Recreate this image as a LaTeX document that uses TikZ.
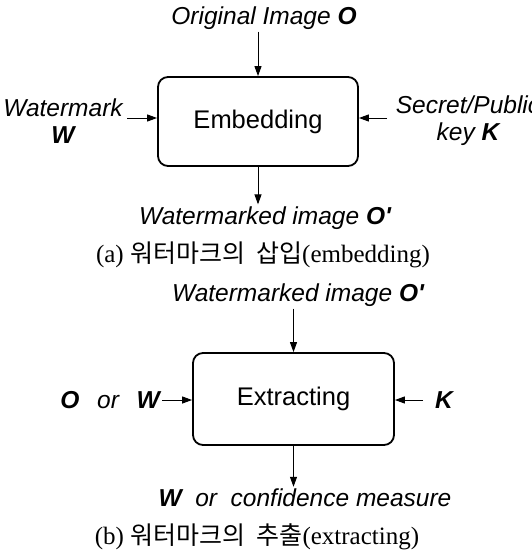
\documentclass[tikz,border=0pt]{standalone}
\usepackage{fontspec}
\setmainfont{Liberation Serif}
\setsansfont{Liberation Sans}
\newfontfamily\kr{Noto Sans CJK KR}
\usetikzlibrary{arrows.meta}

\newcommand{\sym}[1]{\textbf{#1}}
\newcommand{\kor}[1]{{\kr #1}}

\tikzset{
  block/.style={draw, line width=1.8pt, rounded corners=10pt,
    font=\sffamily\fontsize{25.5}{29}\selectfont},
  lbl/.style={font=\sffamily\itshape\fontsize{24.5}{27}\selectfont, inner sep=2pt},
  arr/.style={line width=1pt, -{Triangle[length=10pt,width=7pt]}},
  caption/.style={font=\rmfamily\fontsize{25}{28}\selectfont}
}

\begin{document}
\begin{tikzpicture}[x=1pt,y=-1pt]
			\useasboundingbox (0,0) rectangle (531,554);
			
			% (a) embedding
			\node[block, minimum width=200pt, minimum height=89pt] (emb) at (258,121.5) {Embedding};
			\node[lbl] (orig) at (264,18) {Original Image \sym{O}};
			\node[lbl, align=center] (wm) at (63,121) {Watermark\\\sym{W}};
			\node[lbl, align=center] (key) at (468,121) {Secret/Public\\key \sym{K}};
			\node[lbl] (marked) at (265,218) {Watermarked image \sym{O\textquotesingle}};
			\node[caption] (capa) at (263,255) {(a) \kor{워터마크의 \ 삽입}(embedding)};
			
			\coordinate (wmSrc) at (127,118);
			\coordinate (keySrc) at (387,118);
			
			\draw[arr] (emb.north |- orig.south) -- (emb.north);
			\draw[arr] (wmSrc) -- (emb.west |- wmSrc);
			\draw[arr] (keySrc) -- (emb.east |- keySrc);
			\draw[arr] (emb.south) -- (emb.south |- marked.north);
			
			% (b) extracting
			\node[block, minimum width=201pt, minimum height=92pt] (ext) at (293.5,399) {Extracting};
			\node[lbl] (markedin) at (298,295) {Watermarked image \sym{O\textquotesingle}};
			\node[lbl, anchor=east] (ow) at (162,400) {\sym{O} \ \,or \ \,\sym{W}};
			\node[lbl, anchor=west] (k) at (433,400) {\sym{K}};
			\node[lbl] (res) at (305,498) {\sym{W} \ or \ confidence measure};
			\node[caption] (capb) at (257,537) {(b) \kor{워터마크의 \ 추출}(extracting)};
			
			\draw[arr] (ext.north |- markedin.south) -- (ext.north);
			\draw[arr] (ow.east) -- (ext.west |- ow.east);
			\draw[arr, shorten <=10pt] (k.west) -- (ext.east |- k.west);
			\draw[arr] (ext.south) -- (ext.south |- res.north);
		\end{tikzpicture}
\end{document}
